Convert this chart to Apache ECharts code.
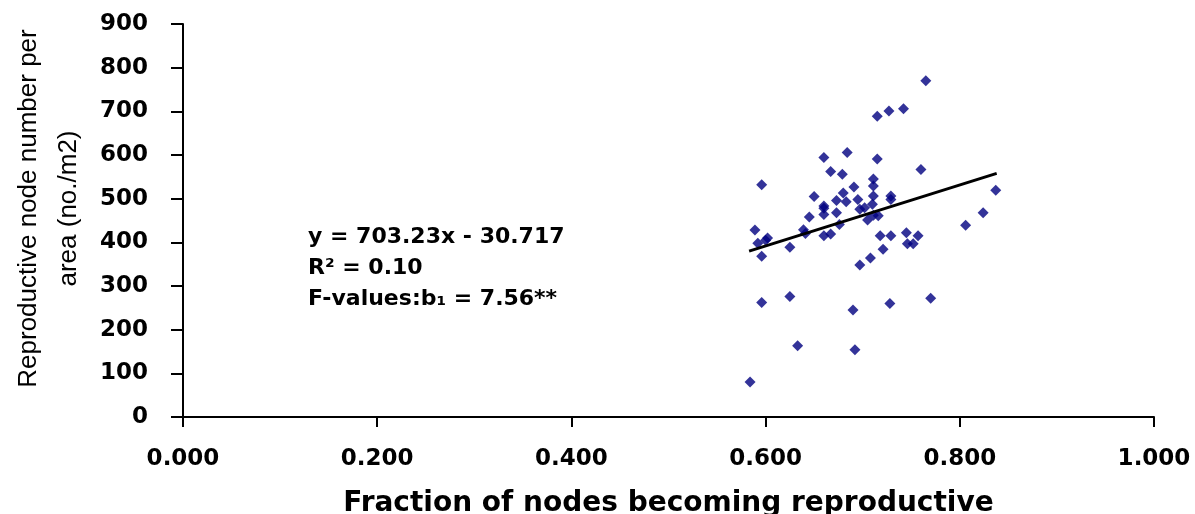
<!DOCTYPE html>
<html>
<head>
<meta charset="utf-8">
<title>Reproductive node number vs fraction</title>
<script src="https://cdn.jsdelivr.net/npm/echarts@6/dist/echarts.min.js"></script>
<style>
  html, body { margin: 0; padding: 0; background: #fff; }
  #chart { width: 1195px; height: 514px; }
</style>
</head>
<body>
<div id="chart"></div>
<script>
// observed points: fraction of nodes becoming reproductive / node number per area
const fractionX = [
  0.765, 0.715, 0.727, 0.742, 0.660, 0.684, 0.715, 0.760, 0.667, 0.679,
  0.596, 0.711, 0.711, 0.691, 0.650, 0.680, 0.673, 0.683, 0.695, 0.711,
  0.729, 0.729, 0.660, 0.660, 0.710, 0.697, 0.702, 0.660, 0.673, 0.645,
  0.705, 0.716, 0.711, 0.589, 0.639, 0.641, 0.676, 0.660, 0.667, 0.602,
  0.600, 0.592, 0.625, 0.596, 0.718, 0.729, 0.745, 0.757, 0.746, 0.752,
  0.721, 0.708, 0.806, 0.697, 0.596, 0.625, 0.690, 0.728, 0.770, 0.633,
  0.692, 0.584, 0.824, 0.837
]
const nodeNumber = [
  770, 689, 701, 706, 594, 606, 591, 567, 562, 556,
  532, 545, 529, 527, 505, 513, 496, 493, 498, 506,
  506, 498, 483, 478, 487, 476, 479, 464, 468, 458,
  451, 461, 462, 428, 429, 420, 441, 415, 419, 410,
  405, 398, 389, 368, 415, 415, 422, 415, 397, 397,
  384, 364, 439, 348, 262, 276, 245, 260, 272, 163,
  154, 80, 468, 519
]
// fitted line end points
const trendX = [0.583, 0.838]
const trendY = [380, 558]

const xTicks = { min: 0, max: 1, interval: 0.2 }
const yTicks = { min: 0, max: 900, interval: 100 }

const equationLines = [
  'y = 703.23x - 30.717',
  'R² = 0.10',
  'F-values:b₁ = 7.56**'
]

const boldFont = 'DejaVu Sans'

const chart = echarts.init(document.getElementById('chart'), null, { renderer: 'canvas' })

chart.setOption({
  backgroundColor: '#ffffff',
  animation: false,
  grid: {
    left: 183,
    right: 41,
    top: 24,
    bottom: 97,
    containLabel: false,
    outerBoundsMode: 'none'
  },
  xAxis: {
    type: 'value',
    min: xTicks.min,
    max: xTicks.max,
    interval: xTicks.interval,
    name: 'Fraction of nodes becoming reproductive',
    nameLocation: 'middle',
    nameGap: 73,
    nameTextStyle: {
      fontFamily: boldFont,
      fontWeight: 'bold',
      fontSize: 28,
      color: '#000'
    },
    axisLine: { show: true, onZero: false, lineStyle: { color: '#000', width: 2 } },
    axisTick: { show: true, length: 10, lineStyle: { color: '#000', width: 2 } },
    axisLabel: {
      margin: 31,
      fontFamily: boldFont,
      fontWeight: 'bold',
      fontSize: 23,
      color: '#000',
      formatter: v => v.toFixed(3)
    },
    splitLine: { show: false }
  },
  yAxis: {
    type: 'value',
    min: yTicks.min,
    max: yTicks.max,
    interval: yTicks.interval,
    name: 'Reproductive node number per\narea (no./m2)',
    nameLocation: 'middle',
    nameGap: 94,
    nameTextStyle: {
      fontFamily: 'Liberation Sans',
      fontSize: 26,
      lineHeight: 40,
      color: '#000',
      align: 'center',
      padding: [0, 0, 0, 24]
    },
    axisLine: { show: true, lineStyle: { color: '#000', width: 2 } },
    axisTick: { show: true, length: 12, lineStyle: { color: '#000', width: 2 } },
    axisLabel: {
      margin: 35,
      fontFamily: boldFont,
      fontWeight: 'bold',
      fontSize: 23,
      color: '#000'
    },
    splitLine: { show: false }
  },
  graphic: [
    {
      type: 'group',
      left: 308,
      top: 226,
      children: equationLines.map((t, i) => ({
        type: 'text',
        x: 0,
        y: i * 31,
        style: {
          text: t,
          fontFamily: boldFont,
          fontWeight: 'bold',
          fontSize: 22,
          fill: '#000'
        }
      }))
    }
  ],
  series: [
    {
      name: 'observed',
      type: 'scatter',
      symbol: 'diamond',
      symbolSize: 11,
      itemStyle: { color: '#000080' },
      data: fractionX.map((x, i) => [x, nodeNumber[i]]),
      z: 3
    },
    {
      name: 'linear fit',
      type: 'line',
      symbol: 'none',
      lineStyle: { color: '#000', width: 3 },
      data: trendX.map((x, i) => [x, trendY[i]]),
      z: 4
    }
  ]
})
</script>
</body>
</html>
